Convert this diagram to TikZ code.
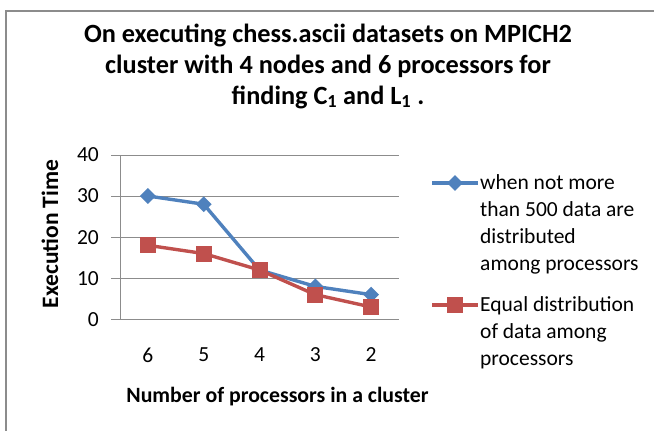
\documentclass[tikz,border=0pt]{standalone}
\usepackage{fontspec}
\setmainfont{Carlito}
\usetikzlibrary{shapes.geometric}
\definecolor{frame}{HTML}{8C8C8C}
\definecolor{grid}{HTML}{8C8C8C}
\definecolor{serA}{HTML}{4F81BD}
\definecolor{serB}{HTML}{C0504D}
\tikzset{
  gridline/.style={draw=grid, line width=0.8pt},
  seriesA/.style={draw=serA, line width=3.4pt},
  seriesB/.style={draw=serB, line width=3.4pt},
  dmark/.style={diamond, fill=serA, inner sep=0pt, minimum size=16pt},
  smark/.style={rectangle, fill=serB, inner sep=0pt, minimum size=16pt},
  ticklab/.style={font=\fontsize{21.5}{24}\selectfont, inner sep=0pt},
  legtext/.style={font=\fontsize{21.5}{27}\selectfont, align=left, inner sep=0pt, anchor=base west},
}
\begin{document}
\begin{tikzpicture}[x=1pt,y=-1pt]
\useasboundingbox (0,0) rectangle (654,431);
% frame
\draw[draw=frame, line width=2pt] (6,440) -- (6,11) -- (660,11);
% title
\node[font=\fontsize{26.3}{31}\selectfont\bfseries, align=center, anchor=base] (title) at (328,104)
  {On executing chess.ascii datasets on MPICH2\\cluster with 4 nodes and 6 processors for\\finding C\textsubscript{1} and L\textsubscript{1} .};
% grid
\foreach \v/\n in {0/g0,10/g1,20/g2,30/g3,40/g4} {
  \coordinate (\n l) at (111,{319.3-\v*4.11});
  \coordinate (\n r) at (399,{319.3-\v*4.11});
  \draw[gridline] (\n l) -- (\n r);
  \node[ticklab, anchor=east] (t\n) at (99,{319.3-\v*4.11}) {\v};
}
\coordinate (axtop) at (120,155);
\coordinate (axbot) at (120,319.3);
\draw[gridline] (axtop) -- (axbot);
% category labels
\foreach \c [count=\i] in {6,5,4,3,2} {
  \node[ticklab] (c\i) at ({120+55.8*(\i-0.5)},355) {\c};
}
% axis titles
\node[font=\fontsize{23.5}{24}\selectfont\bfseries, rotate=90] (ytitle) at (50,234) {Execution Time};
\node[font=\fontsize{21.8}{24}\selectfont\bfseries] (xtitle) at (277.5,397) {Number of processors in a cluster};
% series A
\foreach \v [count=\i] in {30,28,12,8,6} {
  \coordinate (a\i) at ({120+55.8*(\i-0.5)},{319.3-\v*4.11});
}
\draw[seriesA] (a1) -- (a2) -- (a3) -- (a4) -- (a5);
\foreach \i in {1,...,5} { \node[dmark] (ma\i) at (a\i) {}; }
% series B
\foreach \v [count=\i] in {18,16,12,6,3} {
  \coordinate (b\i) at ({120+55.8*(\i-0.5)},{319.3-\v*4.11});
}
\draw[seriesB] (b1) -- (b2) -- (b3) -- (b4) -- (b5);
\foreach \i in {1,...,5} { \node[smark] (mb\i) at (b\i) {}; }
% legend
\coordinate (la1) at (432,183); \coordinate (la2) at (478,183);
\draw[seriesA] (la1) -- (la2);
\node[dmark] (lma) at (455,183) {};
\node[legtext] (lta) at (480,270) {when not more\\than 500 data are\\distributed\\among processors};
\coordinate (lb1) at (432,305); \coordinate (lb2) at (478,305);
\draw[seriesB] (lb1) -- (lb2);
\node[smark] (lmb) at (455,305) {};
\node[legtext] (ltb) at (480,365) {Equal distribution\\of data among\\processors};
\end{tikzpicture}
\end{document}
